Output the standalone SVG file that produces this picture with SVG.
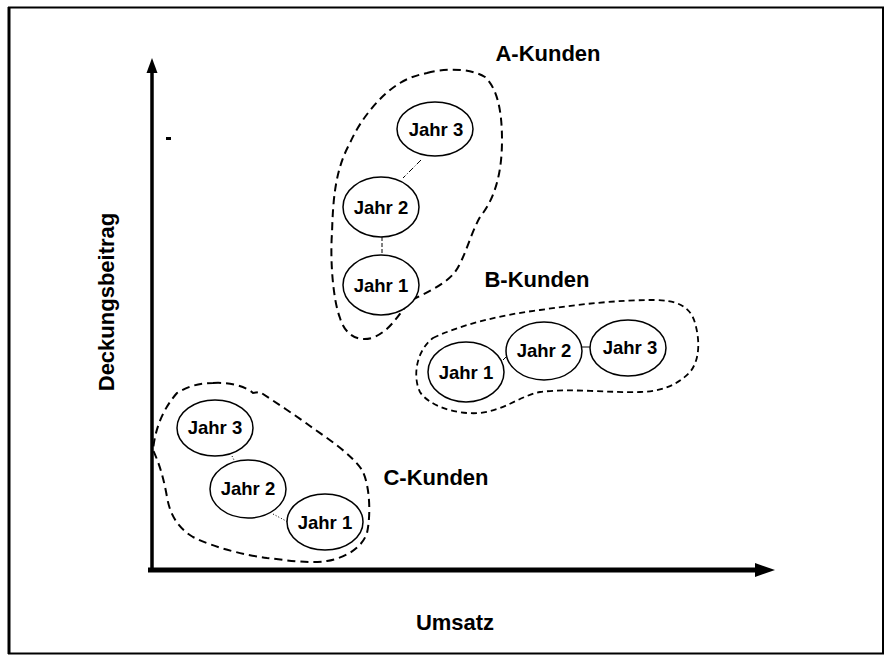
<svg xmlns="http://www.w3.org/2000/svg" width="885" height="656" viewBox="0 0 885 656">
<style>
.lbl{font-family:"Liberation Sans",Arial,sans-serif;font-weight:bold;font-size:22px;fill:#000}
.jt{font-family:"Liberation Sans",Arial,sans-serif;font-weight:bold;font-size:18.5px;fill:#000;text-anchor:middle}
.node ellipse{fill:#fff;stroke:#000;stroke-width:1.5}
.blob{fill:none;stroke:#000;stroke-width:2;stroke-dasharray:8 5}
.blobB{fill:none;stroke:#000;stroke-width:1.8;stroke-dasharray:6 4}
.con{stroke:#000;stroke-width:1;fill:none}
</style>
<defs>
<marker id="ah" viewBox="0 0 10 10" refX="9" refY="5" markerWidth="4" markerHeight="3" orient="auto" markerUnits="strokeWidth">
<path d="M0,0 L10,5 L0,10 Z" fill="#000"/>
</marker>
</defs>
<rect x="0" y="0" width="885" height="656" fill="#fff"/>
<rect x="9" y="7.5" width="874" height="646" fill="none" stroke="#000" stroke-width="2"/>
<line x1="9" y1="7" x2="9" y2="654" stroke="#000" stroke-width="3"/>

<g id="axes">
<line x1="152" y1="572" x2="152" y2="72" stroke="#000" stroke-width="3.5"/>
<path d="M152,58 L146.5,73 L157.5,73 Z" fill="#000"/>
<line x1="148" y1="570" x2="757" y2="570" stroke="#000" stroke-width="5"/>
<path d="M775,570 L755,563 L755,577 Z" fill="#000"/>
<rect x="166" y="137" width="5" height="3" fill="#000"/>
</g>

<text class="lbl" transform="translate(114,302) rotate(-90)" text-anchor="middle">Deckungsbeitrag</text>
<text class="lbl" x="455" y="630" text-anchor="middle">Umsatz</text>

<g id="groups">
<path class="blob" d="M427,73 C445,68 470,68 485,77 C497,88 502,110 502,140 C502,165 498,195 480,217 C470,235 465,258 455,272 C445,285 425,293 412,300 C400,310 393,330 372,338 C358,342 345,335 340,318 C333,300 330,260 332,233 C333,200 335,170 350,143 C360,120 380,95 400,83 C410,77 418,75 427,73 Z"/>
<path class="blobB" d="M433,338 C460,325 500,315 540,310 C580,304 620,300 653,300 C675,300 690,305 695,323 C700,340 700,360 690,372 C678,385 660,392 640,392 C610,393 570,388 540,392 C520,396 505,410 480,413 C455,415 428,405 420,392 C413,378 415,352 433,338 Z"/>
<path class="blob" d="M213,383 C230,382 245,386 253,393 L260,392 C275,402 295,415 310,426 C330,440 352,455 362,470 C370,485 371,515 367,533 C362,548 345,558 327,561 C310,564 285,560 267,558 C245,555 215,548 193,537 C178,528 170,515 167,497 C164,480 160,465 153,450 C155,430 162,410 177,393 C188,386 200,383 213,383 Z"/>
<text class="lbl" x="548" y="61" text-anchor="middle">A-Kunden</text>
<text class="lbl" x="537" y="287" text-anchor="middle">B-Kunden</text>
<text class="lbl" x="436" y="485" text-anchor="middle">C-Kunden</text>
</g>

<g id="connectors">
<line class="con" x1="421" y1="160" x2="403" y2="178" stroke-dasharray="6 2 1 2"/>
<line class="con" x1="382" y1="237" x2="382" y2="255" stroke-dasharray="4 2"/>
<line class="con" x1="582" y1="347" x2="590" y2="347"/>
<line class="con" x1="503" y1="360" x2="506" y2="357"/>
<line class="con" x1="232" y1="456" x2="234" y2="460" stroke-dasharray="1 2"/>
<line class="con" x1="273" y1="514" x2="288" y2="522" stroke-dasharray="1 2"/>
</g>

<g id="A-Jahr3" class="node"><ellipse cx="435" cy="129" rx="38" ry="27"/><text class="jt" x="436" y="136">Jahr 3</text></g>
<g id="A-Jahr2" class="node"><ellipse cx="381" cy="207" rx="38" ry="30"/><text class="jt" x="381" y="214">Jahr 2</text></g>
<g id="A-Jahr1" class="node"><ellipse cx="381" cy="285" rx="38" ry="30"/><text class="jt" x="381" y="292">Jahr 1</text></g>

<g id="B-Jahr1" class="node"><ellipse cx="466" cy="372" rx="38" ry="30"/><text class="jt" x="466" y="379">Jahr 1</text></g>
<g id="B-Jahr2" class="node"><ellipse cx="544" cy="351" rx="38" ry="29"/><text class="jt" x="544" y="357">Jahr 2</text></g>
<g id="B-Jahr3" class="node"><ellipse cx="628" cy="348" rx="38" ry="28"/><text class="jt" x="630" y="354">Jahr 3</text></g>

<g id="C-Jahr3" class="node"><ellipse cx="215" cy="428" rx="38" ry="28"/><text class="jt" x="215" y="434">Jahr 3</text></g>
<g id="C-Jahr2" class="node"><ellipse cx="248" cy="489" rx="38" ry="29"/><text class="jt" x="248" y="495">Jahr 2</text></g>
<g id="C-Jahr1" class="node"><ellipse cx="325" cy="522" rx="38" ry="28"/><text class="jt" x="325" y="529">Jahr 1</text></g>
</svg>
